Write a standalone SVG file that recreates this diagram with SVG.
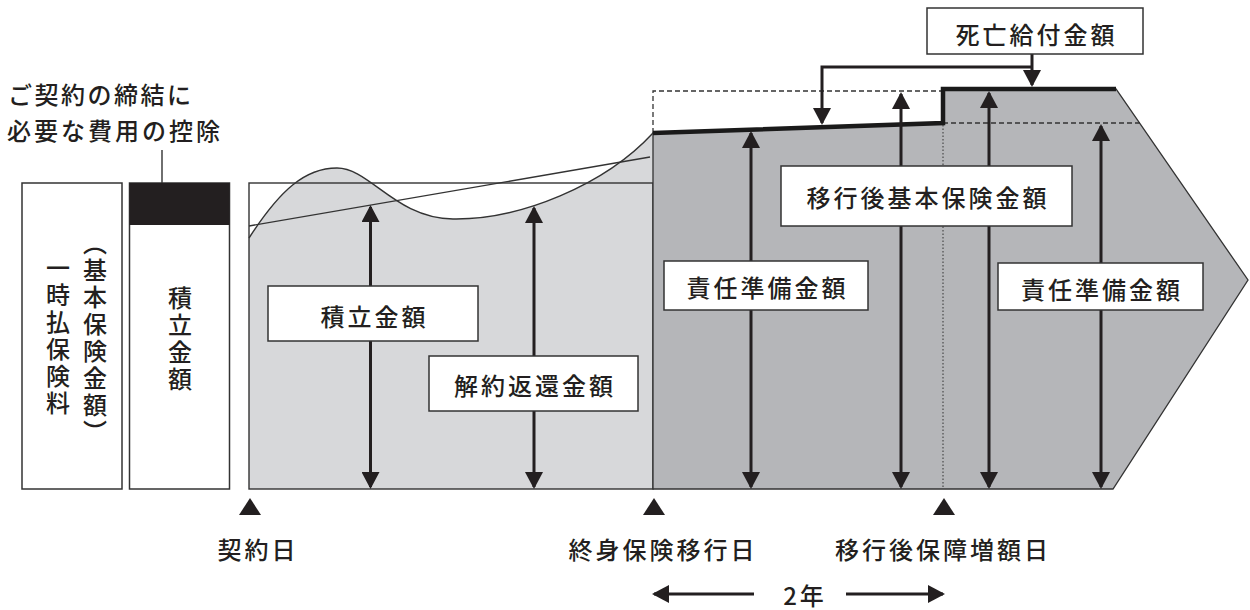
<svg xmlns="http://www.w3.org/2000/svg" width="1250" height="610" viewBox="0 0 1250 610">
<style>
.t{font-family:"Noto Sans CJK JP","Noto Sans",sans-serif;font-size:24px;font-weight:500;fill:#231f20}
.c{text-anchor:middle;dominant-baseline:central;letter-spacing:3px}
.v{writing-mode:vertical-rl;letter-spacing:3px}
.box{fill:#fff;stroke:#333;stroke-width:1.5}
.ln{fill:none;stroke:#333;stroke-width:1.4}
.arr{fill:none;stroke:#231f20;stroke-width:3;marker-start:url(#ah);marker-end:url(#ah)}
.arr1{fill:none;stroke:#231f20;stroke-width:3;marker-end:url(#ah)}
.tri{fill:#231f20}
</style>
<defs>
<marker id="ah" viewBox="0 0 17 18" refX="15" refY="9" markerWidth="17" markerHeight="18" markerUnits="userSpaceOnUse" orient="auto-start-reverse"><path d="M0,0L17,9L0,18z" fill="#231f20"/></marker>
</defs>

<g id="deduction-label">
<text class="t" x="8" y="93" dominant-baseline="central" letter-spacing="2.5">ご契約の締結に</text>
<text class="t" x="7" y="129" dominant-baseline="central" letter-spacing="3">必要な費用の控除</text>
<line class="ln" x1="162" y1="150" x2="162" y2="183"/>
</g>

<g id="premium-box">
<rect class="box" x="22" y="183" width="100" height="306"/>
<text class="t v" x="58" y="256">一時払保険料</text>
<text class="t v" x="95" y="231">（基本保険金額）</text>
</g>

<g id="reserve-box">
<rect class="box" x="129.5" y="183" width="100" height="306"/>
<rect x="129.5" y="183" width="100" height="42" fill="#231f20"/>
<text class="t v" x="180" y="286">積立金額</text>
</g>

<g id="accumulation-area">
<path d="M249,238 C280,190 305,168 337,168 C370,168 395,218 453,219 C520,220 605,185 653,133 L653,489 L249,489 Z" fill="#d7d8da"/>
<rect class="ln" x="249" y="183" width="404" height="306"/>
<path class="ln" d="M249,238 C280,190 305,168 337,168 C370,168 395,218 453,219 C520,220 605,185 653,133"/>
<line class="ln" x1="249" y1="226" x2="650" y2="157"/>
</g>

<g id="whole-life-area">
<path d="M653,133 L943,123 L943,89 L1116,89 L1248,280 L1113,489 L653,489 Z" fill="#b5b6b9" stroke="#333" stroke-width="1.3"/>
<path d="M653,133 V91 H943" fill="none" stroke="#333" stroke-width="1.3" stroke-dasharray="5,3"/>
<line x1="943" y1="123" x2="1140" y2="123" stroke="#333" stroke-width="1.3" stroke-dasharray="5,3"/>
<line x1="943" y1="125" x2="943" y2="489" stroke="#333" stroke-width="1" stroke-dasharray="1.5,2"/>
<path d="M653,133 L943,123 L943,89 L1116,89" fill="none" stroke="#1a1a1a" stroke-width="4.5"/>
</g>

<g id="connectors">
<line class="arr" x1="370.5" y1="207" x2="370.5" y2="487"/>
<line class="arr" x1="534" y1="208" x2="534" y2="487"/>
<line class="arr" x1="751" y1="133" x2="751" y2="487"/>
<line class="arr" x1="901" y1="94" x2="901" y2="487"/>
<line class="arr" x1="989" y1="93" x2="989" y2="487"/>
<line class="arr" x1="1101" y1="126" x2="1101" y2="487"/>
<line class="arr1" x1="1032" y1="54" x2="1032" y2="85" stroke-width="2.5"/>
<path class="arr1" d="M1032,67 H822 V123" stroke-width="2.5"/>
<line class="arr1" x1="754" y1="594" x2="654" y2="594"/>
<line class="arr1" x1="846" y1="594" x2="943" y2="594"/>
</g>

<g id="death-benefit">
<rect class="box" x="927" y="8" width="216" height="46"/>
<text class="t c" x="1036.5" y="33">死亡給付金額</text>
</g>
<g id="base-sum-after">
<rect class="box" x="781" y="166" width="291" height="60"/>
<text class="t c" x="928" y="196">移行後基本保険金額</text>
</g>
<g id="policy-reserve-1">
<rect class="box" x="664" y="261" width="204" height="49"/>
<text class="t c" x="767.5" y="286">責任準備金額</text>
</g>
<g id="policy-reserve-2">
<rect class="box" x="998" y="263" width="205" height="47"/>
<text class="t c" x="1102" y="288">責任準備金額</text>
</g>
<g id="accumulated-amount">
<rect class="box" x="268" y="286" width="210" height="55"/>
<text class="t c" x="374.5" y="315">積立金額</text>
</g>
<g id="surrender-value">
<rect class="box" x="429" y="356" width="209" height="55"/>
<text class="t c" x="535" y="384">解約返還金額</text>
</g>

<g id="contract-date">
<polygon class="tri" points="250,498 239,515 261,515"/>
<text class="t c" x="258" y="548" letter-spacing="1.5">契約日</text>
</g>
<g id="transition-date">
<polygon class="tri" points="654,498 643,515 665,515"/>
<text class="t c" x="663" y="548" letter-spacing="2.3">終身保険移行日</text>
</g>
<g id="increase-date">
<polygon class="tri" points="944,498 933,515 955,515"/>
<text class="t c" x="943" y="548" letter-spacing="2.6">移行後保障増額日</text>
</g>
<g id="two-years">
<text class="t c" x="805" y="594" letter-spacing="6">2年</text>
</g>
</svg>
